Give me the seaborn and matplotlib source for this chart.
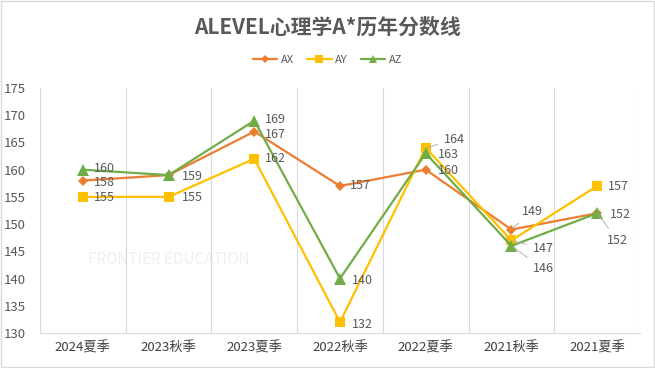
import matplotlib
matplotlib.use("Agg")
import matplotlib.pyplot as plt
import seaborn as sns
import pandas as pd
from matplotlib.patches import Rectangle

categories = ["2024夏季", "2023秋季", "2023夏季", "2022秋季", "2022夏季", "2021秋季", "2021夏季"]
ax_vals = [158, 159, 167, 157, 160, 149, 152]
ay_vals = [155, 155, 162, 132, 164, 147, 157]
az_vals = [160, 159, 169, 140, 163, 146, 152]
series_names = ["AX", "AY", "AZ"]
y_ticks = [130, 135, 140, 145, 150, 155, 160, 165, 170, 175]
title = "ALEVEL心理学A*历年分数线"

sns.set_theme(style="white")
plt.rcParams["font.family"] = ["Noto Sans CJK SC", "DejaVu Sans"]

colors = {"AX": "#ED7D31", "AY": "#FFC000", "AZ": "#70AD47"}
markers = {"AX": "D", "AY": "s", "AZ": "^"}
msize = {"AX": 5, "AY": 7, "AZ": 8}
txt = "#595959"

rows = []
for name, vals in zip(series_names, [ax_vals, ay_vals, az_vals]):
    for i, (c, v) in enumerate(zip(categories, vals)):
        rows.append({"pos": i, "cat": c, "value": v, "series": name})
df = pd.DataFrame(rows)

fig = plt.figure(figsize=(6.55, 3.68), dpi=100)
ax = fig.add_axes([40 / 655, 1 - 333 / 368, 600 / 655, 245 / 368])

# faint watermark
ax.text(1.0, 143.5, "FRONTIER EDUCATION", fontsize=11, fontstyle="italic", color="#999999",
        alpha=0.15, ha="center", va="center", zorder=0)

for b in [i - 0.5 for i in range(len(categories) + 1)]:
    ax.axvline(b, color="#D9D9D9", lw=0.8, zorder=1)

for name in series_names:
    sub = df[df["series"] == name]
    sns.lineplot(data=sub, x="pos", y="value", ax=ax, color=colors[name], lw=1.6,
                 marker=markers[name], markersize=msize[name], markeredgewidth=0,
                 sort=False, label=name, zorder=3, legend=False)

ax.set_xlim(-0.5, len(categories) - 0.5)
ax.set_ylim(130, 175)
ax.set_yticks(y_ticks)
ax.set_yticklabels([str(t) for t in y_ticks], color=txt, fontsize=9.5)
ax.set_xticks(range(len(categories)))
ax.set_xticklabels(categories, color="#404040", fontsize=9.5)
ax.tick_params(axis="both", length=0, pad=6)
ax.tick_params(axis="y", pad=10)
ax.set_xlabel("")
ax.set_ylabel("")
for s in ["top", "right", "left"]:
    ax.spines[s].set_visible(False)
ax.spines["bottom"].set_color("#D9D9D9")
ax.spines["bottom"].set_linewidth(0.8)

# data labels: (series, index, dx, dy, leader)
vals_map = {"AX": ax_vals, "AY": ay_vals, "AZ": az_vals}
label_pos = [
    ("AZ", 0, 11, 1, False), ("AX", 0, 11, -2, False), ("AY", 0, 11, -1, False),
    ("AZ", 1, 13, -1, False), ("AY", 1, 13, -1, False),
    ("AZ", 2, 11, 1, False), ("AX", 2, 11, -3, False), ("AY", 2, 11, 0, False),
    ("AX", 3, 10, 0, False), ("AZ", 3, 12, -2, False), ("AY", 3, 12, -2, False),
    ("AY", 4, 18, 8, True), ("AZ", 4, 12, -1, False), ("AX", 4, 12, -1, False),
    ("AX", 5, 10, 18, True), ("AY", 5, 21, -8, True), ("AZ", 5, 21, -23, True),
    ("AY", 6, 11, -1, False), ("AZ", 6, 13, -1, False), ("AX", 6, 10, -27, True),
]
for name, i, dx, dy, leader in label_pos:
    v = vals_map[name][i]
    kw = {}
    if leader:
        kw["arrowprops"] = dict(arrowstyle="-", color="#A6A6A6", lw=0.6, shrinkA=2, shrinkB=1)
    ax.annotate(str(v), xy=(i, v), xytext=(dx, dy), textcoords="offset pixels",
                ha="left", va="center", fontsize=9, color=txt, zorder=4, **kw)

fig.text(0.5, 1 - 27 / 368, title, ha="center", va="center", fontsize=15,
         fontweight="bold", color=txt)

handles, labels = ax.get_legend_handles_labels()
fig.legend(handles, labels, loc="center", bbox_to_anchor=(0.5, 1 - 60 / 368), ncol=3,
           frameon=False, fontsize=8, labelcolor=txt, handlelength=2.2,
           handletextpad=0.3, columnspacing=1.2, markerscale=0.8)

fig.patches.append(Rectangle((0.001, 0.002), 0.997, 0.995, transform=fig.transFigure,
                             fill=False, edgecolor="#D9D9D9", lw=1))

fig.savefig("out.png", dpi=100)
